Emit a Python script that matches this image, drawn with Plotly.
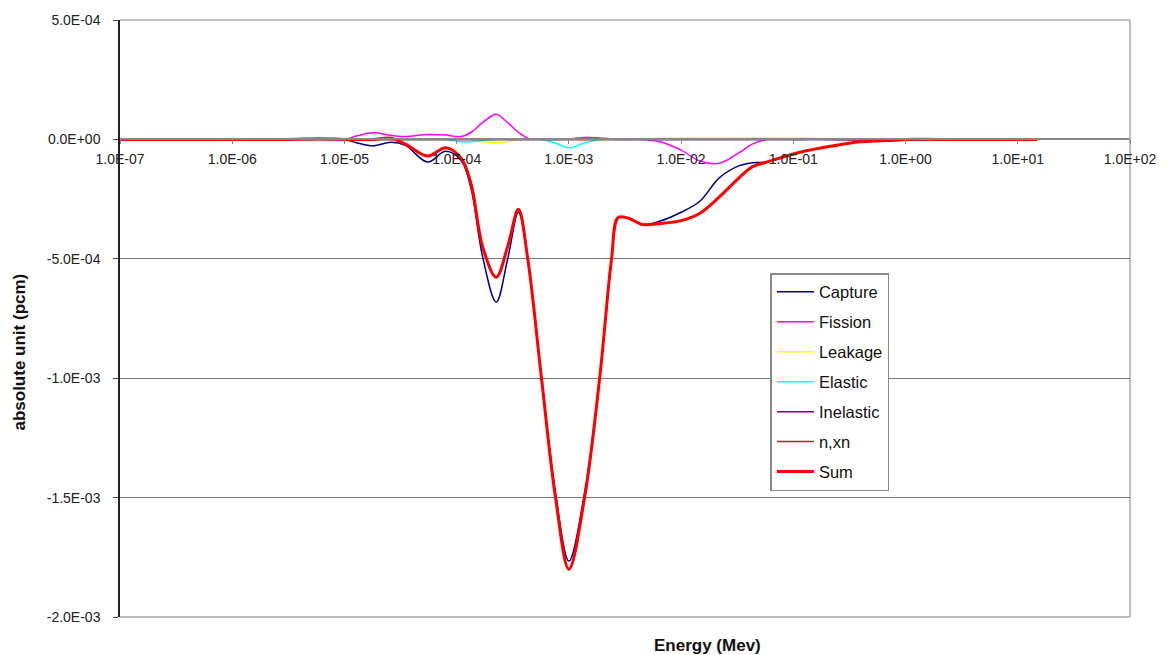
import plotly.graph_objects as go

energy = [1e-7, 1e-6, 3e-6, 6e-6, 1e-5, 1.3e-5, 1.8e-5, 2.6e-5, 3.5e-5, 5.5e-5,
          8e-5, 1.1e-4, 1.35e-4, 1.7e-4, 2.25e-4, 2.85e-4, 3.55e-4, 4.3e-4, 5.7e-4, 7.6e-4,
          1.0e-3, 1.38e-3, 1.88e-3, 2.4e-3, 2.75e-3, 3.4e-3, 4.5e-3, 6.5e-3, 1.0e-2, 1.46e-2,
          2.2e-2, 3.3e-2, 4.3e-2, 5.8e-2, 1.13e-1, 2.2e-1, 3.9e-1, 6.5e-1, 1.0, 2.0,
          5.0, 14.9]

# values in units of 1e-4
capture = [0, 0, 0, 0.03, 0, -0.15, -0.27, -0.12, -0.25, -0.95,
           -0.5, -0.9, -2.1, -4.9, -6.82, -5.0, -3.05, -5.0, -10.0, -14.8,
           -17.66, -14.8, -10.0, -5.0, -3.27, -3.3, -3.56, -3.42, -3.05, -2.6,
           -1.6, -1.1, -0.98, -0.95, -0.55, -0.28, -0.1, 0, 0, 0,
           0, 0]
fission = [0, 0, 0, 0, 0, 0.15, 0.28, 0.17, 0.12, 0.2,
           0.18, 0.12, 0.3, 0.7, 1.05, 0.7, 0.3, 0.05, 0, 0,
           0.02, 0.08, 0.06, 0.02, 0, 0, 0, -0.1, -0.45, -0.9,
           -1.0, -0.55, -0.2, 0, 0, 0, 0, 0, 0, 0,
           0, 0]
leakage = [0, 0, 0, 0, 0, 0, 0, 0, 0, 0,
           0, 0, 0, -0.1, -0.12, -0.1, 0, 0, 0, 0,
           0, 0, 0, 0, 0, 0, 0.02, 0.05, 0.06, 0.06,
           0.06, 0.06, 0.06, 0.06, 0.06, 0.03, 0, 0, 0, 0,
           0, 0]
elastic = [0, 0, 0, 0, 0, 0, 0, 0, 0, 0,
           0, -0.1, -0.1, -0.05, 0, 0, 0, 0, 0, -0.15,
           -0.35, -0.15, 0, 0, 0, 0, 0, 0, 0, 0,
           0, 0, 0, 0, 0, 0, 0, 0, 0, 0,
           0, 0]
inelastic = [0, 0, 0, 0, 0, 0, 0, 0, 0, 0,
             0, 0, 0, 0, 0, 0, 0, 0, 0, 0,
             0, 0, 0, 0, 0, 0, 0, 0, 0, 0,
             0, 0, 0, 0, 0, 0, -0.03, -0.08, -0.03, 0,
             0, 0]
nxn = [0] * len(energy)
total = [0, 0, 0, 0.03, 0, 0, 0, 0.05, -0.2, -0.7,
         -0.35, -0.8, -1.9, -4.48, -5.77, -4.48, -2.93, -5.0, -10.0, -15.0,
         -18.0, -15.0, -10.0, -5.0, -3.27, -3.3, -3.56, -3.52, -3.4, -3.1,
         -2.4, -1.6, -1.15, -0.95, -0.55, -0.28, -0.1, -0.05, 0, 0,
         0, 0]

series = [
    ("Capture", capture, "#000080", 1.5),
    ("Fission", fission, "#FF00FF", 1.5),
    ("Leakage", leakage, "#FFFF00", 1.5),
    ("Elastic", elastic, "#00FFFF", 1.5),
    ("Inelastic", inelastic, "#800080", 1.5),
    ("n,xn", nxn, "#993333", 1.5),
    ("Sum", total, "#FF0000", 3),
]

x_tickvals = [1e-7, 1e-6, 1e-5, 1e-4, 1e-3, 1e-2, 1e-1, 1e0, 1e1, 1e2]
x_ticktext = ["1.0E-07", "1.0E-06", "1.0E-05", "1.0E-04", "1.0E-03",
              "1.0E-02", "1.0E-01", "1.0E+00", "1.0E+01", "1.0E+02"]
y_tickvals = [5e-4, 0, -5e-4, -1e-3, -1.5e-3, -2e-3]
y_ticktext = ["5.0E-04", "0.0E+00", "-5.0E-04", "-1.0E-03", "-1.5E-03", "-2.0E-03"]

fig = go.Figure()
for name, vals, color, w in series:
    fig.add_trace(go.Scatter(
        x=energy, y=[v * 1e-4 for v in vals], name=name, mode="lines",
        line=dict(color=color, width=w, shape="spline", smoothing=1.0),
        legendgroup=name,
    ))

font_family = "Liberation Sans, Arial, sans-serif"
fig.update_layout(
    width=1170, height=655,
    margin=dict(l=112, r=48, t=12, b=46),
    paper_bgcolor="white", plot_bgcolor="white",
    font=dict(family=font_family, size=14, color="#222"),
    showlegend=True,
    legend=dict(
        x=0.644, y=0.576, xanchor="left", yanchor="top",
        bgcolor="white", bordercolor="#888", borderwidth=1.5,
        font=dict(size=16.5, color="#111"),
        tracegroupgap=5.5, traceorder="grouped", itemwidth=37,
    ),
    xaxis=dict(
        type="log", range=[-7, 2],
        tickvals=x_tickvals, ticktext=x_ticktext,
        anchor="free", position=0.8, automargin=False,
        showline=True, linecolor="#888", linewidth=1.5,
        ticks="outside", ticklen=4, tickcolor="#888",
        ticklabelstandoff=3,
        showgrid=False, zeroline=False,
        tickfont=dict(size=14, color="#222"),
    ),
    yaxis=dict(
        range=[-2e-3, 5e-4], automargin=False,
        tickvals=y_tickvals, ticktext=y_ticktext,
        showline=True, linecolor="#222", linewidth=1.5,
        ticks="outside", ticklen=5, tickcolor="#444",
        ticklabelstandoff=10,
        showgrid=True, gridcolor="#777", gridwidth=1,
        zeroline=False,
        tickfont=dict(size=14, color="#222"),
    ),
    annotations=[
        dict(text="<b>Energy (Mev)</b>", xref="paper", yref="paper",
             x=0.582, y=0, yshift=-28, xanchor="center", yanchor="middle",
             showarrow=False, font=dict(size=17, color="#111")),
        dict(text="<b>absolute unit (pcm)</b>", xref="paper", yref="paper",
             x=0, xshift=-100, y=0.443, textangle=-90, xanchor="center", yanchor="middle",
             showarrow=False, font=dict(size=17, color="#111")),
    ],
)
# plot area border lines (right, top, bottom)
fig.add_shape(type="line", xref="paper", yref="paper", x0=1, x1=1, y0=0, y1=1,
              line=dict(color="#aaa", width=1.5), layer="below")
fig.add_shape(type="line", xref="paper", yref="paper", x0=0, x1=1, y0=1, y1=1,
              line=dict(color="#888", width=1), layer="below")
fig.add_shape(type="line", xref="paper", yref="paper", x0=0, x1=1, y0=0, y1=0,
              line=dict(color="#aaa", width=1.5), layer="below")

fig.write_html("out.html")
